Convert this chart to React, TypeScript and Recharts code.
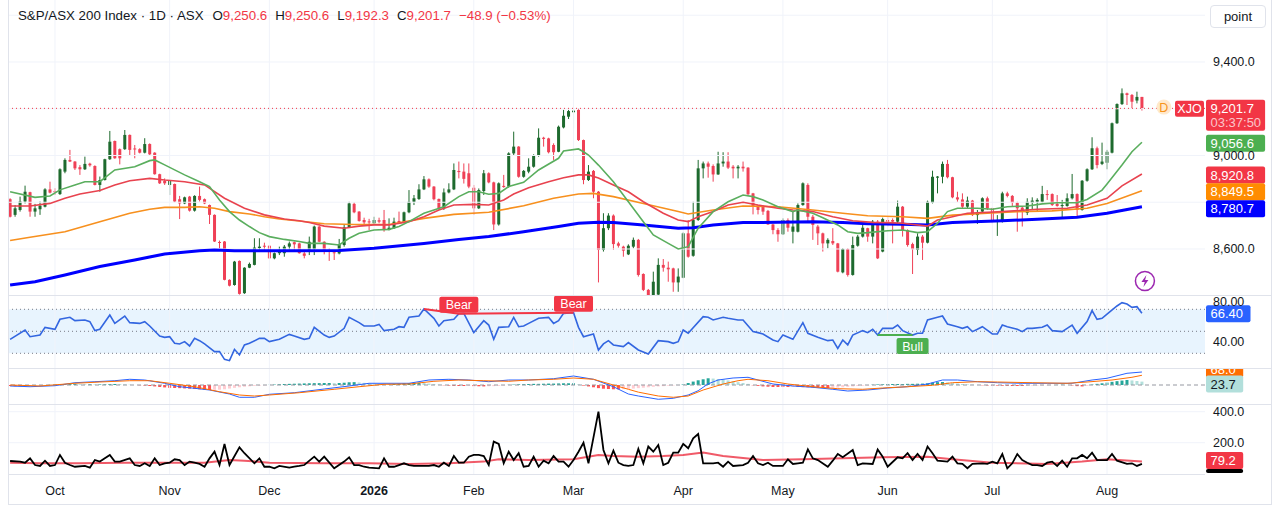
import React from "react";
import {
  ComposedChart, Bar, Line, XAxis, YAxis, ReferenceLine, ReferenceDot, ReferenceArea, Cell,
} from "recharts";

// Daily candles, index 0 = 18 Sep 2025 ... index 227 = 12 Aug 2026
const opens = [
  8813, 8746, 8767, 8803, 8843, 8760, 8770, 8781, 8855, 8848,
  8835, 8931, 8981, 8974, 8950, 8941, 8965, 8955, 8874, 8895,
  8984, 9062, 9027, 9027, 9088, 9030, 9027, 9012, 9049, 9012,
  8920, 8891, 8874, 8878, 8813, 8795, 8824, 8764, 8827, 8813,
  8788, 8746, 8630, 8632, 8468, 8446, 8549, 8411, 8520, 8532,
  8604, 8614, 8614, 8560, 8582, 8582, 8610, 8629, 8624, 8581,
  8596, 8600, 8696, 8631, 8596, 8586, 8581, 8617, 8693, 8793,
  8760, 8724, 8718, 8710, 8723, 8724, 8681, 8689, 8720, 8713,
  8757, 8802, 8814, 8855, 8898, 8867, 8814, 8774, 8842, 8855,
  8934, 8931, 8924, 8862, 8774, 8848, 8924, 8885, 8705, 8870,
  8867, 9009, 9038, 8909, 8931, 8952, 9002, 9076, 9073, 9045,
  9016, 9120, 9166, 9185, 9195, 9066, 8895, 8934, 8845, 8596,
  8689, 8743, 8624, 8610, 8577, 8610, 8639, 8493, 8425, 8403,
  8405, 8532, 8520, 8517, 8457, 8477, 8667, 8571, 8724, 8945,
  8966, 8955, 8919, 8966, 8974, 8952, 8945, 8952, 8948, 8838,
  8781, 8781, 8763, 8705, 8681, 8663, 8724, 8674, 8674, 8788,
  8874, 8738, 8696, 8667, 8624, 8634, 8624, 8500, 8600, 8489,
  8614, 8653, 8689, 8653, 8717, 8589, 8724, 8724, 8717, 8781,
  8681, 8621, 8596, 8653, 8627, 8798, 8905, 8909, 8964, 8907,
  8821, 8812, 8781, 8807, 8745, 8760, 8817, 8774, 8717, 8717,
  8838, 8827, 8798, 8777, 8755, 8798, 8802, 8802, 8835, 8835,
  8793, 8784, 8784, 8817, 8835, 8767, 8892, 8941, 9031, 8964,
  8969, 9012, 9138, 9220, 9266, 9259, 9235, 9250.6,
];
const highs = [
  8817, 8788, 8824, 8871, 8845, 8793, 8803, 8860, 8888, 8860,
  8945, 8988, 9024, 8976, 8959, 8995, 8969, 8958, 8910, 8986,
  9105, 9064, 9030, 9109, 9090, 9045, 9031, 9074, 9052, 9014,
  8922, 8902, 8895, 8880, 8827, 8824, 8827, 8830, 8867, 8816,
  8790, 8748, 8636, 8634, 8470, 8549, 8551, 8522, 8542, 8646,
  8646, 8627, 8616, 8585, 8610, 8617, 8632, 8632, 8627, 8596,
  8653, 8700, 8698, 8633, 8603, 8596, 8643, 8703, 8802, 8800,
  8762, 8734, 8729, 8738, 8734, 8767, 8731, 8734, 8760, 8760,
  8852, 8831, 8877, 8912, 8902, 8869, 8816, 8859, 8881, 8966,
  8974, 8966, 8966, 8874, 8859, 8938, 8928, 8888, 8885, 8917,
  9014, 9102, 9040, 8938, 8988, 9005, 9116, 9080, 9076, 9052,
  9128, 9195, 9195, 9205, 9202, 9068, 8959, 8938, 8848, 8753,
  8753, 8748, 8631, 8614, 8620, 8649, 8643, 8496, 8429, 8503,
  8560, 8557, 8546, 8520, 8517, 8671, 8724, 8802, 8981, 8974,
  8974, 8962, 9016, 9014, 9014, 8959, 8959, 8974, 8950, 8840,
  8788, 8788, 8767, 8707, 8689, 8731, 8731, 8760, 8795, 8885,
  8881, 8746, 8703, 8670, 8646, 8689, 8626, 8603, 8603, 8653,
  8660, 8703, 8691, 8724, 8724, 8734, 8736, 8731, 8807, 8784,
  8684, 8627, 8667, 8660, 8807, 8935, 8912, 8974, 8981, 8909,
  8845, 8838, 8824, 8810, 8767, 8821, 8824, 8777, 8745, 8845,
  8845, 8831, 8802, 8781, 8817, 8821, 8817, 8870, 8852, 8838,
  8831, 8810, 8838, 8921, 8838, 8895, 8945, 9078, 9038, 9055,
  9024, 9141, 9223, 9287, 9269, 9263, 9273, 9250.6,
];
const lows = [
  8735, 8738, 8760, 8795, 8738, 8738, 8746, 8778, 8838, 8831,
  8831, 8924, 8972, 8938, 8917, 8938, 8952, 8872, 8845, 8893,
  8981, 8986, 8962, 9024, 9002, 8988, 9009, 9009, 9002, 8918,
  8878, 8874, 8831, 8800, 8728, 8792, 8760, 8760, 8803, 8792,
  8707, 8630, 8603, 8466, 8440, 8443, 8405, 8408, 8518, 8530,
  8596, 8593, 8558, 8556, 8574, 8567, 8596, 8596, 8580, 8560,
  8574, 8574, 8629, 8577, 8549, 8553, 8577, 8610, 8690, 8753,
  8717, 8703, 8681, 8703, 8710, 8674, 8680, 8686, 8710, 8710,
  8753, 8788, 8810, 8852, 8862, 8808, 8767, 8767, 8838, 8852,
  8902, 8880, 8860, 8746, 8771, 8831, 8881, 8681, 8700, 8862,
  8862, 9002, 8905, 8905, 8924, 8948, 8995, 9038, 9009, 8981,
  9014, 9116, 9156, 9116, 9062, 8877, 8891, 8817, 8457, 8589,
  8681, 8596, 8606, 8567, 8574, 8603, 8482, 8420, 8400, 8400,
  8403, 8503, 8460, 8417, 8417, 8475, 8563, 8567, 8720, 8902,
  8905, 8888, 8917, 8952, 8942, 8902, 8902, 8931, 8831, 8748,
  8748, 8746, 8703, 8663, 8631, 8660, 8674, 8624, 8671, 8785,
  8717, 8639, 8617, 8589, 8603, 8617, 8500, 8496, 8482, 8486,
  8610, 8649, 8631, 8624, 8557, 8586, 8696, 8624, 8710, 8653,
  8610, 8493, 8574, 8553, 8624, 8795, 8838, 8881, 8902, 8817,
  8802, 8774, 8774, 8741, 8707, 8755, 8767, 8710, 8656, 8713,
  8821, 8781, 8674, 8696, 8745, 8767, 8760, 8798, 8810, 8784,
  8781, 8731, 8781, 8812, 8738, 8764, 8888, 8938, 8945, 8959,
  8941, 9009, 9135, 9216, 9216, 9202, 9223, 9192.3,
];
const closes = [
  8738, 8774, 8803, 8845, 8760, 8774, 8785, 8855, 8841, 8843,
  8941, 8981, 8974, 8945, 8941, 8964, 8958, 8874, 8895, 8984,
  9059, 8988, 8988, 9088, 9024, 9027, 9012, 9049, 9005, 8920,
  8881, 8881, 8891, 8803, 8795, 8821, 8764, 8827, 8810, 8795,
  8746, 8632, 8627, 8468, 8443, 8546, 8408, 8520, 8536, 8606,
  8610, 8610, 8560, 8582, 8596, 8610, 8624, 8620, 8582, 8571,
  8631, 8696, 8631, 8596, 8589, 8584, 8620, 8693, 8795, 8757,
  8720, 8714, 8716, 8724, 8717, 8681, 8691, 8717, 8713, 8757,
  8802, 8817, 8855, 8898, 8867, 8813, 8774, 8842, 8855, 8938,
  8929, 8900, 8867, 8774, 8852, 8924, 8885, 8705, 8881, 8865,
  9009, 9038, 8909, 8934, 8952, 9002, 9076, 9071, 9014, 9014,
  9123, 9170, 9190, 9192, 9066, 8895, 8931, 8845, 8596, 8689,
  8743, 8621, 8614, 8593, 8614, 8639, 8489, 8425, 8403, 8460,
  8532, 8520, 8513, 8457, 8482, 8667, 8567, 8724, 8945, 8966,
  8952, 8919, 8966, 8974, 8948, 8945, 8952, 8945, 8834, 8781,
  8767, 8760, 8705, 8681, 8663, 8724, 8691, 8696, 8788, 8881,
  8738, 8703, 8667, 8624, 8639, 8624, 8503, 8600, 8489, 8617,
  8653, 8691, 8653, 8717, 8560, 8728, 8717, 8717, 8781, 8681,
  8617, 8599, 8653, 8627, 8802, 8909, 8910, 8964, 8907, 8821,
  8812, 8781, 8807, 8745, 8755, 8817, 8774, 8717, 8724, 8838,
  8827, 8798, 8774, 8760, 8802, 8807, 8810, 8835, 8831, 8788,
  8784, 8788, 8817, 8835, 8767, 8892, 8941, 9031, 8959, 8974,
  9016, 9138, 9220, 9266, 9259, 9230, 9250.6, 9201.7,
];

// moving averages: [candle index, value]
const maGreen = [
  [0, 8845], [5, 8821], [8, 8827], [10, 8853], [13, 8874], [15, 8888], [18, 8888], [21, 8938],
  [25, 8952], [28, 8978], [29, 8981], [31, 8960], [35, 8917], [38, 8888], [40, 8867], [42, 8810],
  [44, 8760], [46, 8724], [48, 8696], [50, 8670], [52, 8653], [55, 8641], [58, 8632], [60, 8624],
  [63, 8624], [66, 8617], [68, 8646], [70, 8667], [73, 8681], [76, 8684], [78, 8696], [80, 8717],
  [83, 8753], [85, 8767], [87, 8781], [90, 8824], [92, 8845], [94, 8845], [96, 8834], [98, 8838],
  [100, 8867], [103, 8885], [106, 8938], [110, 8988], [111, 9019], [114, 9028], [115, 9016],
  [116, 9002], [118, 8959], [121, 8888], [124, 8802], [127, 8717], [129, 8660], [132, 8624],
  [134, 8600], [136, 8610], [138, 8689], [141, 8760], [144, 8802], [147, 8831], [149, 8824],
  [151, 8810], [154, 8781], [157, 8760], [158, 8767], [161, 8753], [163, 8734], [166, 8703],
  [168, 8674], [170, 8667], [172, 8670], [176, 8678], [179, 8681], [182, 8670], [184, 8674],
  [186, 8710], [188, 8760], [190, 8774], [194, 8774], [197, 8770], [200, 8781], [204, 8784],
  [207, 8793], [210, 8798], [214, 8798], [216, 8812], [219, 8852], [220, 8878], [223, 8959],
  [225, 9016], [227, 9056.6],
];
const maRed = [
  [0, 8784], [4, 8784], [8, 8795], [11, 8817], [14, 8835], [18, 8850], [21, 8874], [24, 8892],
  [28, 8902], [31, 8895], [35, 8888], [39, 8874], [43, 8817], [47, 8774], [51, 8746], [55, 8728],
  [58, 8721], [60, 8713], [63, 8698], [67, 8689], [70, 8698], [73, 8703], [76, 8703], [80, 8717],
  [83, 8738], [86, 8767], [89, 8788], [93, 8791], [96, 8788], [99, 8810], [101, 8835], [104, 8862],
  [108, 8888], [111, 8905], [114, 8917], [116, 8917], [118, 8904], [121, 8874], [124, 8845],
  [127, 8802], [131, 8753], [134, 8724], [136, 8717], [138, 8738], [141, 8760], [144, 8788],
  [147, 8800], [150, 8788], [154, 8774], [157, 8767], [161, 8760], [165, 8738], [169, 8721],
  [173, 8714], [176, 8713], [179, 8710], [184, 8698], [186, 8724], [189, 8738], [192, 8753],
  [199, 8760], [206, 8770], [212, 8774], [216, 8788], [220, 8817], [223, 8870], [227, 8920.8],
];
const maOrange = [
  [0, 8636], [4, 8650], [11, 8674], [18, 8717], [24, 8753], [28, 8770], [31, 8778], [35, 8778],
  [38, 8781], [41, 8774], [44, 8760], [48, 8750], [51, 8738], [54, 8728], [58, 8720], [63, 8708],
  [69, 8705], [76, 8705], [83, 8731], [89, 8748], [96, 8757], [103, 8785], [109, 8817], [114, 8835],
  [117, 8838], [121, 8824], [127, 8795], [134, 8760], [136, 8750], [141, 8767], [147, 8784],
  [154, 8781], [161, 8767], [167, 8753], [172, 8742], [179, 8738], [184, 8731], [189, 8745],
  [196, 8753], [202, 8760], [209, 8763], [216, 8774], [220, 8795], [227, 8849.5],
];
const maBlue = [
  [0, 8446], [5, 8460], [11, 8489], [18, 8525], [25, 8553], [31, 8579], [38, 8593], [41, 8596],
  [45, 8593], [51, 8592], [58, 8592], [66, 8594], [73, 8603], [83, 8624], [90, 8641], [96, 8653],
  [103, 8674], [110, 8696], [114, 8710], [118, 8714], [121, 8713], [127, 8703], [134, 8689],
  [137, 8691], [141, 8703], [147, 8713], [154, 8714], [161, 8717], [167, 8713], [172, 8708],
  [179, 8706], [184, 8703], [189, 8713], [199, 8721], [206, 8727], [214, 8736], [220, 8753],
  [227, 8780.7],
];

const rsi = [
  [0, 42.7], [3, 51.2], [4, 45.1], [6, 46.6], [7, 53.6], [9, 51.8], [10, 60.9], [12, 62.7],
  [13, 59.7], [15, 60.3], [16, 58.8], [17, 50.6], [18, 51.8], [20, 64.8], [21, 57.2], [23, 63.9],
  [24, 57.9], [26, 57.2], [27, 58.8], [28, 54.8], [30, 45.7], [31, 44.5], [32, 45.1], [33, 39.1],
  [34, 38.5], [35, 40.6], [36, 36.7], [37, 43.6], [38, 41.5], [39, 38.5], [41, 31.5], [42, 31.5],
  [43, 24.5], [44, 23.3], [45, 33.6], [46, 28.5], [47, 37.6], [48, 39.1], [50, 43.6], [51, 43.6],
  [52, 40.6], [54, 42.7], [56, 47.2], [57, 45.7], [59, 42.7], [60, 43.6], [61, 53.6], [63, 46.6],
  [64, 44.5], [65, 45.7], [67, 52.7], [68, 62.7], [70, 57.9], [71, 54.8], [73, 54.8], [74, 56.3],
  [75, 50.6], [77, 51.8], [78, 54.2], [79, 53.6], [80, 62.7], [82, 63.9], [83, 70.3], [85, 61.8],
  [86, 54.8], [87, 59.7], [89, 60.9], [90, 65.9], [91, 66.3], [93, 48.8], [95, 59.7], [96, 55.7],
  [97, 42.7], [98, 53.6], [100, 54.2], [101, 62.7], [102, 54.2], [103, 54.8], [104, 57.2],
  [106, 61.8], [108, 62.7], [109, 57.2], [110, 59.7], [111, 66.3], [113, 66.9], [114, 53.6],
  [115, 45.1], [117, 47.6], [118, 33.0], [119, 38.5], [120, 41.5], [121, 37.6], [123, 36.1],
  [124, 39.7], [126, 33.0], [128, 29.4], [130, 41.5], [132, 40.6], [133, 39.1], [134, 40.6],
  [135, 51.2], [136, 48.2], [139, 63.3], [140, 62.7], [141, 60.3], [143, 62.7], [144, 61.8],
  [146, 60.3], [147, 60.3], [149, 49.7], [150, 48.8], [151, 47.6], [153, 42.1], [154, 40.6],
  [155, 46.6], [157, 42.7], [159, 57.9], [160, 48.2], [162, 44.5], [164, 41.5], [165, 42.1],
  [166, 34.5], [167, 42.1], [168, 37.6], [169, 46.6], [171, 50.6], [172, 48.8], [173, 51.8],
  [174, 46.6], [175, 52.7], [177, 52.7], [178, 55.7], [179, 50.6], [181, 46.6], [182, 48.2],
  [183, 48.2], [184, 60.3], [186, 62.7], [187, 63.9], [188, 56.6], [190, 54.2], [191, 52.7],
  [192, 54.2], [193, 49.7], [194, 51.8], [195, 54.2], [197, 47.6], [198, 47.6], [199, 55.7],
  [200, 54.2], [202, 51.8], [203, 49.7], [204, 52.7], [205, 52.7], [207, 53.6], [208, 55.7],
  [209, 50.6], [211, 49.7], [212, 52.7], [213, 55.7], [214, 48.2], [216, 58.8], [217, 68.8],
  [218, 60.9], [219, 61.8], [220, 65.7], [222, 73.0], [223, 76.0], [224, 74.8], [225, 71.8],
  [226, 72.4], [227, 66.4],
];
const bearLine = [[83, 70.3], [90, 65.9], [113, 66.9]];
const bearTags = [[90, 65.9], [113, 66.9]];
const bullLine = [[174, 46.6], [181, 46.6]];

const macdLine = [
  [0, -7], [4, -12], [9, -5], [13, 16], [17, 23], [21, 30], [24, 40], [27, 35], [31, 12], [34, -12],
  [37, -23], [40, -35], [44, -63], [46, -86], [49, -86], [52, -65], [57, -54], [63, -28], [68, -7],
  [72, 12], [77, 12], [80, 12], [84, 35], [88, 40], [92, 35], [96, 23], [100, 35], [104, 35],
  [109, 44], [113, 63], [117, 40], [121, -12], [124, -63], [126, -77], [130, -100], [133, -93],
  [136, -70], [138, -40], [140, 8], [142, 35], [145, 49], [148, 54], [150, 35], [153, 7], [157, -7],
  [161, -16], [165, -30], [168, -42], [172, -35], [176, -21], [180, -12], [184, 7], [187, 35],
  [190, 35], [194, 23], [198, 16], [203, 12], [208, 12], [213, 12], [217, 35], [220, 47], [224, 82],
  [227, 91],
];
const signalLine = [
  [0, 0], [6, -7], [13, 12], [18, 21], [24, 30], [28, 30], [32, 12], [37, -12], [42, -47], [46, -70],
  [49, -77], [52, -70], [58, -54], [65, -30], [70, -12], [75, 5], [80, 7], [85, 26], [90, 35],
  [95, 30], [100, 26], [104, 35], [109, 40], [113, 49], [117, 40], [121, 0], [124, -30], [126, -50],
  [130, -77], [133, -86], [136, -77], [139, -35], [143, 7], [146, 30], [148, 40], [152, 30], [156, 7],
  [161, -12], [166, -26], [171, -30], [175, -21], [180, -12], [185, -2], [189, 16], [194, 23],
  [198, 21], [205, 16], [212, 12], [216, 21], [221, 35], [225, 54], [227, 68],
];
const macdHist = [
  -7, -8, -8, -7, -6, -5,
  -3, -1, 1, 3, 5, 6, 7,
  7, 6, 5, 5, 4, 4, 5, 6,
  7, 6, 4, 2, 0, -2, -4, -7,
  -10, -14, -17, -20, -21, -22, -24, -26,
  -28, -30, -33, -35, -34, -33, -30, -25,
  -20, -16, -12, -9, -6, -4, -2, 1,
  3, 5, 7, 8, 9, 10, 11, 12, 13, 13,
  14, 14, 13, 14, 16, 19, 20, 18,
  15, 12, 10, 8, 7, 6, 7, 9, 12, 14,
  16, 16, 14, 10,
  6, 2, -2, -4, -6, -7, -7, -6, -8,
  -9, -10, -9, -8, -6, -3,
  1, 3, 5, 6, 7, 8, 8, 9, 10, 10, 11, 12, 12,
  12,
  4, -4, -10, -16, -22, -26, -28, -30, -30,
  -29, -27, -25, -22, -19, -16, -13, -10, -8,
  -5, -3, -1,
  5, 14, 24, 33, 40, 47, 45, 42, 38,
  32, 26, 20, 14, 8,
  -2, -6, -10, -12, -14, -14, -14, -14, -13, -14, -15,
  -16, -18, -19, -20, -21, -20, -18, -16, -13, -10,
  -7, -5, -3,
  2, 4, 5, 6, 7, 7, 7, 8, 8, 9, 10, 12,
  16, 20, 21, 18,
  14, 10, 7, 4, 2, 0, -2, -3, -3, -4,
  -5, -6, -7, -7, -7, -6, -5, -4, -3, -2,
  0, 1, 2, 1, -3, -8,
  -10, -6,
  3, 8, 12, 17, 22, 27, 31, 35,
  32, 28, 23.7,
];

const volLine = [
  [0, 82], [2, 78], [3, 71], [4, 99], [5, 56], [6, 50], [7, 84], [8, 50], [9, 56], [10, 121],
  [11, 71], [12, 56], [13, 45], [15, 50], [16, 39], [17, 88], [18, 78], [20, 121], [21, 78], [22, 78],
  [24, 99], [25, 56], [26, 50], [27, 67], [28, 50], [29, 99], [30, 56], [31, 67], [32, 71], [33, 93],
  [34, 88], [35, 56], [36, 78], [37, 71], [38, 63], [39, 45], [40, 99], [41, 142], [42, 56], [43, 192],
  [44, 56], [46, 170], [47, 132], [49, 67], [50, 99], [51, 45], [52, 45], [53, 35], [54, 50], [56, 39],
  [57, 45], [58, 50], [59, 56], [61, 110], [62, 78], [63, 110], [65, 35], [67, 78], [68, 106],
  [69, 56], [70, 56], [71, 45], [72, 39], [74, 35], [75, 99], [76, 45], [77, 45], [78, 56], [79, 67],
  [80, 56], [81, 50], [83, 50], [84, 50], [85, 56], [86, 45], [87, 71], [88, 50], [89, 114], [90, 71],
  [91, 71], [92, 110], [93, 121], [94, 121], [95, 114], [96, 56], [97, 207], [98, 192], [99, 67],
  [100, 142], [101, 88], [102, 132], [103, 45], [104, 50], [105, 110], [106, 45], [107, 84],
  [108, 67], [109, 114], [110, 78], [111, 78], [112, 45], [113, 88], [114, 142], [115, 200],
  [116, 67], [118, 400], [119, 153], [120, 67], [121, 149], [122, 71], [123, 56], [124, 50],
  [125, 56], [126, 160], [127, 67], [128, 175], [129, 142], [130, 185], [131, 56], [132, 71],
  [133, 136], [134, 136], [135, 192], [136, 164], [137, 228], [138, 256], [139, 67], [141, 67],
  [142, 71], [143, 45], [144, 78], [145, 50], [147, 56], [148, 71], [149, 114], [150, 67], [151, 56],
  [152, 71], [153, 50], [155, 50], [156, 93], [157, 63], [158, 67], [159, 71], [160, 157], [161, 99],
  [162, 88], [164, 45], [165, 84], [166, 127], [167, 106], [169, 153], [170, 56], [171, 67],
  [173, 63], [174, 157], [175, 110], [176, 45], [178, 106], [179, 99], [180, 132], [181, 88],
  [182, 127], [183, 88], [184, 175], [185, 132], [186, 84], [188, 78], [189, 110], [190, 67],
  [191, 63], [192, 35], [193, 63], [195, 67], [196, 63], [197, 78], [198, 67], [199, 127], [200, 35],
  [201, 67], [202, 127], [203, 88], [204, 71], [205, 56], [206, 56], [207, 50], [208, 71], [209, 78],
  [210, 50], [211, 84], [212, 45], [213, 99], [214, 99], [215, 121], [216, 99], [217, 136],
  [218, 88], [220, 88], [221, 127], [222, 84], [224, 63], [225, 67], [226, 50], [227, 63],
];
const volAvg = [
  [0, 71], [6, 67], [14, 67], [23, 71], [31, 71], [39, 71], [44, 88], [47, 84], [52, 71], [63, 67],
  [72, 67], [80, 63], [88, 67], [95, 78], [98, 93], [104, 88], [113, 93], [118, 121], [121, 114],
  [126, 110], [131, 114], [135, 121], [139, 136], [143, 114], [151, 88], [159, 93], [167, 99],
  [175, 106], [184, 110], [189, 93], [197, 71], [208, 63], [215, 78], [220, 93], [227, 79.2],
];

const monthTicks = [9, 32, 52, 73, 93, 113, 135, 155, 176, 197, 220];
const monthLabels = ["Oct", "Nov", "Dec", "2026", "Feb", "Mar", "Apr", "May", "Jun", "Jul", "Aug"];
const priceGrid = [8600, 8800, 9000, 9200, 9400, 9600];
const priceTicks = [8600, 9000, 9400];
const rsiTicks = [40, 80];

const FONT = '"Liberation Sans", Arial, sans-serif';
const TEXT = "#131722";
const GRID = "#f0f3fa";
const UP = "#1e6a2e";
const DOWN = "#ef4056";
const RED = "#f23645";
const X_DOMAIN: [number, number] = [-0.22, 239.65];
const W = 1281;
const AXIS_W = 76;
const MARGIN = { top: 0, right: 0, bottom: 0, left: 9 };
const AXIS_FONT = 12.5;

const candles = closes.map((c, i) => ({
  x: i, o: opens[i], h: highs[i], l: lows[i], c, range: [lows[i], highs[i]], hist: macdHist[i],
}));
const pts = (arr: number[][]) => arr.map(([x, v]) => ({ x, v }));

function histColor(i: number) {
  const v = macdHist[i];
  const p = i > 0 ? macdHist[i - 1] : v;
  if (v >= 0) return v >= p ? "#26a69a" : "#b2dfdb";
  return v <= p ? "#ff5252" : "#ffcdd2";
}

function Candle(props: any) {
  const { x, y, width, height, payload } = props;
  if (!payload) return null;
  const { o, h, l, c } = payload;
  const color = c >= o ? UP : DOWN;
  const hgt = Math.abs(height);
  const top = Math.min(y, y + height);
  const span = h - l || 1;
  const py = (p: number) => top + ((h - p) / span) * hgt;
  const cx = x + width / 2;
  const bTop = py(Math.max(o, c));
  const bBot = py(Math.min(o, c));
  return (
    <g>
      <line x1={cx} x2={cx} y1={top} y2={top + hgt} stroke={color} strokeWidth={1} />
      <rect x={x} y={bTop} width={width} height={Math.max(1, bBot - bTop)} fill={color} />
    </g>
  );
}

function Tag(props: any) {
  const { viewBox, text, bg, fg = "#fff", shift = 0, sub, prefix, boxH } = props;
  if (!viewBox) return null;
  const left = viewBox.x + viewBox.width + 1;
  const cy = viewBox.y + shift;
  const w = text.length * 7.3 + 8;
  const h = boxH ?? (sub ? 31 : 17);
  const top = cy - 8.5;
  return (
    <g>
      {prefix && (
        <g>
          <rect x={left - 31} y={top + 1} width={29} height={16} rx={2} fill={bg} />
          <text x={left - 16.5} y={cy + 0.5} textAnchor="middle" dominantBaseline="central" fill="#fff" fontSize={12.5}>{prefix}</text>
        </g>
      )}
      <rect x={left} y={top} width={w} height={h} rx={2} fill={bg} />
      {h > 10 && (
        <text x={left + 4.5} y={cy} dominantBaseline="central" fill={fg} fontSize={13}>{text}</text>
      )}
      {sub && (
        <text x={left + 4.5} y={cy + 14.5} dominantBaseline="central" fill="rgba(255,255,255,0.72)" fontSize={13}>{sub}</text>
      )}
    </g>
  );
}

function SignalTag({ cx, cy, text, bg, below }: any) {
  const w = text === "Bull" ? 32 : 39;
  const h = 16;
  const top = below ? cy + 3 : cy - h - 1;
  return (
    <g>
      <rect x={cx - w / 2} y={top} width={w} height={h} rx={2} fill={bg} />
      <text x={cx} y={top + h / 2 + 0.5} textAnchor="middle" dominantBaseline="central" fill="#fff" fontSize={12.5}>{text}</text>
    </g>
  );
}

function MonthTick({ x, y, payload }: any) {
  const i = monthTicks.indexOf(payload.value);
  const label = monthLabels[i] ?? "";
  return (
    <text x={x} y={y + 15} textAnchor="middle" dominantBaseline="central" fontSize={AXIS_FONT}
      fill={TEXT} fontWeight={label === "2026" ? 700 : 400}>{label}</text>
  );
}

// RSI scale labels; the top one sits under the pane edge as on the original
function RsiTick({ x, y, payload }: any) {
  const lift = payload.value === 80 ? 3 : 0;
  return (
    <text x={x + 8} y={y - lift} dominantBaseline="central" fontSize={AXIS_FONT} fill={TEXT}>
      {payload.value.toFixed(2)}
    </text>
  );
}

const fmt1 = (v: number) => v.toLocaleString("en-US", { minimumFractionDigits: 1, maximumFractionDigits: 1 });

function MonthLines() {
  return (
    <>
      {monthTicks.map((m) => (
        <ReferenceLine key={m} x={m} stroke={GRID} strokeWidth={1} />
      ))}
    </>
  );
}

function Sep({ top, width = 1263 }: { top: number; width?: number }) {
  return <div style={{ position: "absolute", left: 9, top, width, height: 1, background: "#e0e3eb" }} />;
}

export default function App() {
  const hidX = (
    <XAxis type="number" dataKey="x" domain={X_DOMAIN} allowDataOverflow hide />
  );
  return (
    <div style={{ position: "absolute", left: 0, top: 0, width: W, height: 522, background: "#fff", fontFamily: FONT, overflow: "hidden" }}>
      {/* price pane */}
      <div style={{ position: "absolute", left: 0, top: 0 }}>
        <ComposedChart width={W} height={295} data={candles} margin={MARGIN}>
          {hidX}
          <YAxis orientation="right" width={AXIS_W} domain={[8403.2, 9665.2]} allowDataOverflow
            ticks={priceTicks} tickFormatter={fmt1} tickSize={0} tickMargin={8} axisLine={false}
            tick={{ fill: TEXT, fontSize: AXIS_FONT }} />
          {priceGrid.map((p) => (
            <ReferenceLine key={p} y={p} stroke={GRID} strokeWidth={1} />
          ))}
          {MonthLines()}
          <Line data={pts(maBlue)} dataKey="v" stroke="#0000ff" strokeWidth={3} dot={false} isAnimationActive={false} />
          <Line data={pts(maOrange)} dataKey="v" stroke="#f7901e" strokeWidth={1.6} dot={false} isAnimationActive={false} />
          <Line data={pts(maRed)} dataKey="v" stroke="#e8434f" strokeWidth={1.6} dot={false} isAnimationActive={false} />
          <Line data={pts(maGreen)} dataKey="v" stroke="#5aae5e" strokeWidth={1.6} dot={false} isAnimationActive={false} />
          <Bar dataKey="range" barSize={3} isAnimationActive={false} shape={(p: any) => <Candle {...p} />} />
          <ReferenceLine y={9201.7} stroke={RED} strokeDasharray="1 3" strokeWidth={1}
            label={<Tag text="9,201.7" bg={RED} sub="03:37:50" prefix="XJO" />} />
          <ReferenceLine y={9056.6} stroke="none" label={<Tag text="9,056.6" bg="#4caf50" shift={1} />} />
          <ReferenceLine y={8920.8} stroke="none" label={<Tag text="8,920.8" bg={RED} shift={1} />} />
          <ReferenceLine y={8849.5} stroke="none" label={<Tag text="8,849.5" bg="#ff8c00" shift={1} />} />
          <ReferenceLine y={8780.7} stroke="none" label={<Tag text="8,780.7" bg="#0000ff" shift={2} />} />
          <ReferenceDot x={231.4} y={9207} r={7} ifOverflow="visible"
            shape={(p: any) => (
              <g>
                <circle cx={p.cx} cy={p.cy} r={7.5} fill="#ffe9cc" />
                <text x={p.cx} y={p.cy + 0.5} textAnchor="middle" dominantBaseline="central" fontSize={12.5} fill="#f7931a">D</text>
              </g>
            )} />
          <ReferenceDot x={227.6} y={8463} r={9} ifOverflow="visible"
            shape={(p: any) => (
              <g>
                <circle cx={p.cx} cy={p.cy} r={9.5} fill="#fff" stroke="#9c27b0" strokeWidth={1.5} />
                <path d={`M${p.cx + 1.5} ${p.cy - 6} L${p.cx - 3.5} ${p.cy + 1} L${p.cx - 0.2} ${p.cy + 1} L${p.cx - 1.5} ${p.cy + 6} L${p.cx + 3.5} ${p.cy - 1} L${p.cx + 0.2} ${p.cy - 1} Z`} fill="#9c27b0" />
              </g>
            )} />
        </ComposedChart>
      </div>

      {/* RSI pane */}
      <div style={{ position: "absolute", left: 0, top: 296 }}>
        <ComposedChart width={W} height={72} margin={MARGIN}>
          {hidX}
          <YAxis orientation="right" width={AXIS_W} domain={[16.64, 82.09]} allowDataOverflow
            ticks={rsiTicks} tickSize={0} tickMargin={0} axisLine={false} tick={<RsiTick />} />
          {MonthLines()}
          <ReferenceArea y1={30} y2={70} fill="#2196f3" fillOpacity={0.1} stroke="none" />
          {[70, 50, 30].map((v) => (
            <ReferenceLine key={v} y={v} stroke="#787b86" strokeDasharray="1 3" strokeWidth={1} />
          ))}
          <Line data={pts(rsi)} dataKey="v" stroke="#3366e0" strokeWidth={1.6} dot={false} isAnimationActive={false} />
          <Line data={pts(bearLine)} dataKey="v" stroke={RED} strokeWidth={2} dot={false} isAnimationActive={false} />
          <Line data={pts(bullLine)} dataKey="v" stroke="#4caf50" strokeWidth={2} dot={false} isAnimationActive={false} />
          {bearTags.map(([x, v]) => (
            <ReferenceDot key={x} x={x} y={v} r={1} ifOverflow="visible"
              shape={(p: any) => <SignalTag cx={p.cx} cy={p.cy} text="Bear" bg={RED} />} />
          ))}
          <ReferenceDot x={181} y={46.6} r={1} ifOverflow="visible"
            shape={(p: any) => <SignalTag cx={p.cx} cy={p.cy} text="Bull" bg="#4caf50" below />} />
          <ReferenceLine y={66.4} stroke="none" label={<Tag text="66.40" bg="#2962ff" shift={0.5} />} />
        </ComposedChart>
      </div>

      {/* MACD pane */}
      <div style={{ position: "absolute", left: 0, top: 368 }}>
        <ComposedChart width={W} height={36} data={candles} margin={MARGIN}>
          {hidX}
          <YAxis orientation="right" width={AXIS_W} domain={[-133, 119]} allowDataOverflow tick={false} axisLine={false} tickSize={0} />
          {MonthLines()}
          <ReferenceLine y={0} stroke="#9598a1" strokeDasharray="4 3" strokeWidth={1} />
          <Bar dataKey="hist" barSize={3} isAnimationActive={false}>
            {candles.map((d) => (
              <Cell key={d.x} fill={histColor(d.x)} />
            ))}
          </Bar>
          <Line data={pts(macdLine)} dataKey="v" stroke="#2962ff" strokeWidth={1} dot={false} isAnimationActive={false} />
          <Line data={pts(signalLine)} dataKey="v" stroke="#ff6d00" strokeWidth={1} dot={false} isAnimationActive={false} />
          <ReferenceLine y={68} stroke="none" label={<Tag text="68.0" bg="#ff6d00" shift={-6} />} />
          <ReferenceLine y={23.7} stroke="none" label={<Tag text="23.7" bg="#b2dfdb" fg={TEXT} shift={2.5} />} />
        </ComposedChart>
      </div>

      {/* volume pane + time axis */}
      <div style={{ position: "absolute", left: 0, top: 404 }}>
        <ComposedChart width={W} height={101} margin={MARGIN}>
          <XAxis type="number" dataKey="x" domain={X_DOMAIN} allowDataOverflow ticks={monthTicks}
            height={31} tickSize={0} tickLine={false} axisLine={false} tick={<MonthTick />} interval={0} />
          <YAxis orientation="right" width={AXIS_W} domain={[-1.9, 449.7]} allowDataOverflow
            ticks={[200, 400]} tickFormatter={(v: number) => v.toFixed(1)} tickSize={0} tickMargin={8}
            axisLine={false} tick={{ fill: TEXT, fontSize: AXIS_FONT }} />
          {MonthLines()}
          <ReferenceLine y={200} stroke={GRID} />
          <ReferenceLine y={400} stroke={GRID} />
          <Line data={pts(volAvg)} dataKey="v" stroke="#f05a68" strokeWidth={2} dot={false} isAnimationActive={false} />
          <Line data={pts(volLine)} dataKey="v" stroke="#000" strokeWidth={1.8} dot={false} isAnimationActive={false} />
          <ReferenceLine y={79.2} stroke="none" label={<Tag text="79.2" bg={RED} shift={-1} />} />
          <ReferenceLine y={79.2} stroke="none" label={<Tag text="79.2" bg="#000" shift={16} boxH={4} />} />
        </ComposedChart>
      </div>

      <Sep top={295} />
      <Sep top={368} />
      <Sep top={404} />
      <Sep top={474} width={1196} />
      <div style={{ position: "absolute", left: 8, top: -2, width: 1264, height: 507, border: "1px solid #e0e3eb", boxSizing: "border-box", pointerEvents: "none" }} />

      {/* header */}
      <div style={{ position: "absolute", left: 18, top: 8, fontSize: 13.3, color: TEXT, whiteSpace: "pre" }}>
        <span>S&amp;P/ASX 200 Index · 1D · ASX</span>
        <span style={{ marginLeft: 9 }}>O</span><span style={{ color: RED }}>9,250.6</span>
        <span style={{ marginLeft: 8 }}>H</span><span style={{ color: RED }}>9,250.6</span>
        <span style={{ marginLeft: 8 }}>L</span><span style={{ color: RED }}>9,192.3</span>
        <span style={{ marginLeft: 8 }}>C</span><span style={{ color: RED }}>9,201.7</span>
        <span style={{ marginLeft: 8, color: RED }}>−48.9 (−0.53%)</span>
      </div>
      <div style={{ position: "absolute", left: 1210, top: 5, width: 56, height: 23, border: "1px solid #e0e3eb", borderRadius: 4, background: "#fff", boxSizing: "border-box", fontSize: 13, color: TEXT, display: "flex", alignItems: "center", justifyContent: "center" }}>
        point
      </div>
    </div>
  );
}
